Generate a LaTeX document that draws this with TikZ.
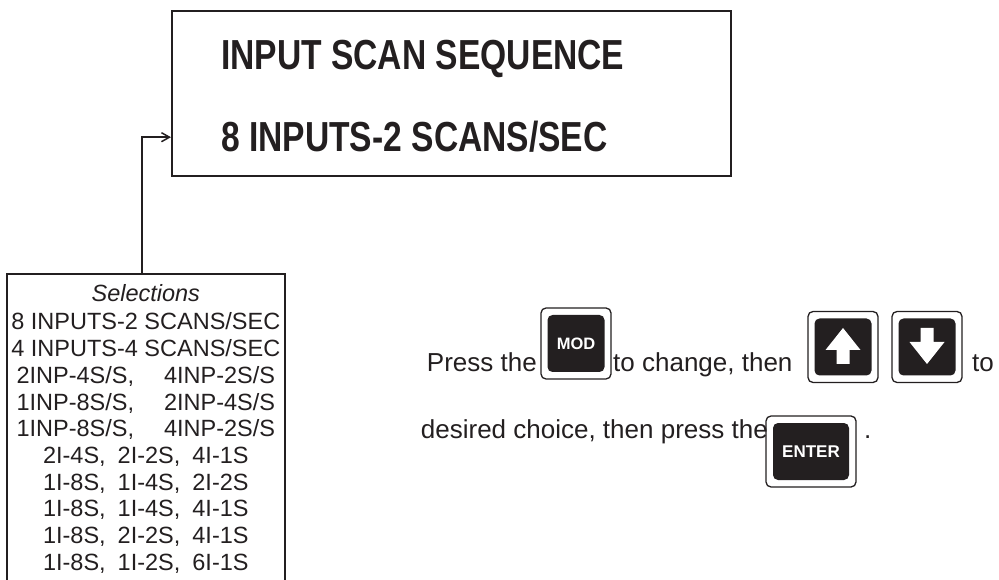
\documentclass[tikz,border=0pt]{standalone}
\usepackage{fontspec}
\setmainfont{Liberation Sans}
\newfontfamily\dispfont{Liberation Sans}[FakeStretch=0.80]
\usepackage{xcolor}
\usepackage{tikz}
\usetikzlibrary{
    arrows.meta,
    positioning
}
\definecolor{inkdark}{HTML}{231F20}

\tikzset{
    dispbox/.style={rectangle, draw=inkdark, line width=2pt, inner sep=0pt},
    disptext/.style={font=\dispfont\bfseries\fontsize{42}{42}\selectfont, text=inkdark, inner sep=0pt, anchor=base west},
    selbox/.style={rectangle, draw=inkdark, line width=1.6pt, inner sep=0pt},
    listtext/.style={align=center, font=\fontsize{23.5}{26.7}\selectfont, text=inkdark, inner sep=0pt},
    bodytext/.style={font=\fontsize{26}{26}\selectfont, text=inkdark, inner sep=0pt},
    keyframe/.style={rectangle, draw=inkdark, fill=white, line width=1.3pt, rounded corners=5pt, minimum width=70pt, minimum height=71pt},
    keyface/.style={rectangle, fill=inkdark, rounded corners=5pt, minimum width=57pt, minimum height=57pt, inner sep=0pt, text=white, font=\bfseries\fontsize{16.5}{16.5}\selectfont},
    link/.style={draw=inkdark, line width=1.5pt, -{Straight Barb[length=8pt,width=9pt]}}
}

\begin{document}
\begin{tikzpicture}[x=1pt, y=1pt]

    \useasboundingbox (0,0) rectangle (999,579);

    % Display window
    \node[dispbox, minimum width=559pt, minimum height=165pt, anchor=north west] (disp) at (171,569) {};
    \node[disptext] (paramtxt) at (221,509) {INPUT SCAN SEQUENCE};
    \node[disptext] (valtxt) at (221,427) {8 INPUTS-2 SCANS/SEC};

    % Selection list
    \node[selbox, minimum width=278pt, minimum height=345pt, anchor=north west] (sel) at (6,306) {};
    \node[listtext, below=11pt of sel.north] (sellist) {
        \textit{Selections}\\[2pt]
        8 INPUTS-2 SCANS/SEC\\
        4 INPUTS-4 SCANS/SEC\\
        2INP-4S/S,\hspace{30pt}4INP-2S/S\\
        1INP-8S/S,\hspace{30pt}2INP-4S/S\\
        1INP-8S/S,\hspace{30pt}4INP-2S/S\\
        2I-4S,\hspace{12pt}2I-2S,\hspace{12pt}4I-1S\\
        1I-8S,\hspace{12pt}1I-4S,\hspace{12pt}2I-2S\\
        1I-8S,\hspace{12pt}1I-4S,\hspace{12pt}4I-1S\\
        1I-8S,\hspace{12pt}2I-2S,\hspace{12pt}4I-1S\\
        1I-8S,\hspace{12pt}1I-2S,\hspace{12pt}6I-1S
    };

    \draw[link] ([xshift=-4pt]sel.north) |- (valtxt.west -| disp.west);

    % Keys
    \node[keyframe] (modkey) at (576,235.5) {};
    \node[keyface] (modface) at (modkey) {MOD};
    \node[keyframe] (upkey) at (843,232) {};
    \node[keyface] (upface) at (upkey) {};
    \node[keyframe] (downkey) at (927,232) {};
    \node[keyface] (downface) at (downkey) {};
    \node[keyframe, minimum width=90pt] (enterkey) at (811,127.5) {};
    \node[keyface, minimum width=76pt, font=\bfseries\fontsize{17}{17}\selectfont] (enterface) at (enterkey) {ENTER};

    \fill[white, shift={(upface.center)}] (0,19) -- (17.5,-3) -- (6.5,-3) -- (6.5,-17) -- (-6.5,-17) -- (-6.5,-3) -- (-17.5,-3) -- cycle;
    \fill[white, shift={(downface.center)}] (0,-17) -- (17.5,5) -- (6.5,5) -- (6.5,19) -- (-6.5,19) -- (-6.5,5) -- (-17.5,5) -- cycle;

    % Instructions
    \node[bodytext, anchor=base east] (presstxt) at (537,207) {Press the};
    \node[bodytext, anchor=base west] (changetxt) at (613,207) {to change, then};
    \node[bodytext, anchor=base west] (totxt) at (972,207) {to};
    \node[bodytext, anchor=base east] (choicetxt) at (768,141) {desired choice, then press the};
    \node[bodytext, anchor=base west] (dottxt) at (864,141) {.};

\end{tikzpicture}
\end{document}
